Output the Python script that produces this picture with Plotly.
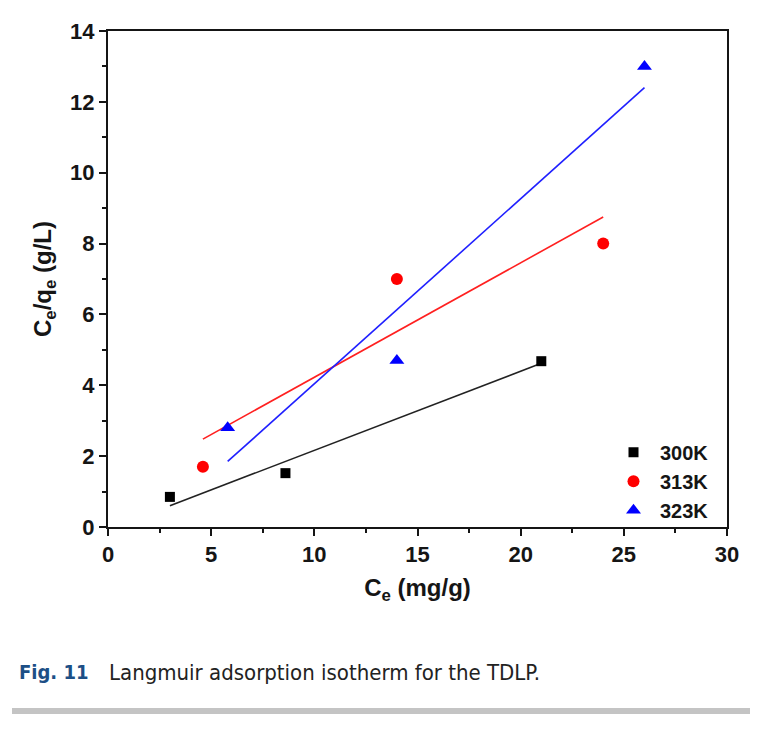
import plotly.graph_objects as go

# Data
x300 = [3.0, 8.6, 21.0]
y300 = [0.85, 1.52, 4.68]
x313 = [4.6, 14.0, 24.0]
y313 = [1.7, 7.0, 8.0]
x323 = [5.8, 14.0, 26.0]
y323 = [2.8, 4.7, 13.0]

# Linear fit line endpoints
fx300 = [3.0, 21.0]
fy300 = [0.6, 4.62]
fx313 = [4.6, 24.0]
fy313 = [2.48, 8.75]
fx323 = [5.8, 26.0]
fy323 = [1.85, 12.4]

xticks = [0, 5, 10, 15, 20, 25, 30]
yticks = [0, 2, 4, 6, 8, 10, 12, 14]

FONT = "Liberation Sans, Arial, sans-serif"
INK = "#151515"

fig = go.Figure()
fig.add_trace(go.Scatter(x=fx300, y=fy300, mode="lines", line=dict(color="#222222", width=1.6), showlegend=False, hoverinfo="skip"))
fig.add_trace(go.Scatter(x=fx313, y=fy313, mode="lines", line=dict(color="#ff2020", width=1.6), showlegend=False, hoverinfo="skip"))
fig.add_trace(go.Scatter(x=fx323, y=fy323, mode="lines", line=dict(color="#2020ff", width=1.6), showlegend=False, hoverinfo="skip"))

fig.add_trace(go.Scatter(x=x300, y=y300, mode="markers", name="<b>300K</b>",
                         marker=dict(symbol="square", size=10, color="black")))
fig.add_trace(go.Scatter(x=x313, y=y313, mode="markers", name="<b>313K</b>",
                         marker=dict(symbol="circle", size=12, color="#ff0000")))
fig.add_trace(go.Scatter(x=x323, y=y323, mode="markers", name="<b>323K</b>",
                         marker=dict(symbol="triangle-up", size=13, color="#0000ff")))

axis_common = dict(
    showline=True, linecolor=INK, linewidth=2, mirror=True,
    ticks="outside", ticklen=7, tickwidth=2, tickcolor=INK,
    showgrid=False, zeroline=False,
    tickfont=dict(family=FONT, size=22, color=INK),
)

fig.update_xaxes(range=[0, 30], tickvals=xticks, ticktext=[f"<b>{v}</b>" for v in xticks],
                 minor=dict(ticks="outside", ticklen=4, tickwidth=2, tickcolor=INK, dtick=2.5, tick0=0),
                 title=dict(text="<b>C<sub>e</sub> (mg/g)</b>", font=dict(family=FONT, size=24, color=INK), standoff=13),
                 **axis_common)
fig.update_yaxes(range=[0, 14], tickvals=yticks, ticktext=[f"<b>{v}</b>" for v in yticks],
                 minor=dict(ticks="outside", ticklen=4, tickwidth=2, tickcolor=INK, dtick=1, tick0=0),
                 title=dict(text="<b>C<sub>e</sub>/q<sub>e</sub> (g/L)</b>", font=dict(family=FONT, size=24, color=INK), standoff=12),
                 **axis_common)

fig.update_layout(
    width=783, height=746,
    margin=dict(l=108, r=56, t=31, b=219),
    plot_bgcolor="white", paper_bgcolor="white",
    legend=dict(x=(607 - 108) / 619, y=0.19, xanchor="left", yanchor="top",
                bgcolor="rgba(0,0,0,0)", borderwidth=0,
                font=dict(family=FONT, size=20, color=INK),
                itemwidth=43, tracegroupgap=0),
    annotations=[
        dict(xref="paper", yref="paper", x=(17 - 108) / 619, y=(527 - 672) / 496,
             xanchor="left", yanchor="middle", showarrow=False, align="left",
             text="<b>Fig. 11</b>",
             font=dict(family="DejaVu Sans Condensed, Liberation Sans, sans-serif", size=20, color="#1d4f86")),
        dict(xref="paper", yref="paper", x=(107 - 108) / 619, y=(527 - 672) / 496,
             xanchor="left", yanchor="middle", showarrow=False, align="left",
             text="Langmuir adsorption isotherm for the TDLP.",
             font=dict(family="DejaVu Sans Condensed, Liberation Sans, sans-serif", size=22, color="#222222")),
    ],
    shapes=[
        dict(type="rect", xref="paper", yref="paper",
             x0=(12 - 108) / 619, x1=(750 - 108) / 619,
             y0=(527 - 714) / 496, y1=(527 - 708) / 496,
             fillcolor="#c4c4c4", line=dict(width=0), layer="above"),
    ],
)

fig.write_html("out.html")
